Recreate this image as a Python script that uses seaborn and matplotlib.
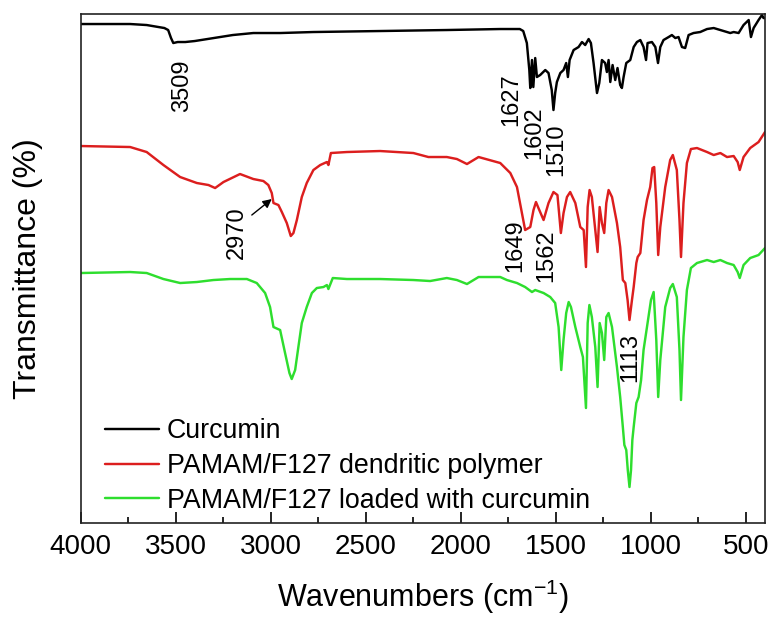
import matplotlib
matplotlib.use("Agg")
import matplotlib.pyplot as plt
import numpy as np
import pandas as pd
import seaborn as sns

# FTIR spectra (wavenumber in cm-1, transmittance in arbitrary offset units)
curcumin_wn = [4000, 3740, 3653, 3560, 3540, 3525, 3513, 3490, 3450, 3400, 3300, 3200,
               3092, 2950, 2777, 2425, 2075, 1793, 1724, 1690, 1672, 1653, 1640, 1635,
               1626, 1619, 1609, 1600, 1583, 1556, 1539, 1522, 1513, 1504, 1495, 1477,
               1460, 1446, 1437, 1428, 1407, 1381, 1363, 1346, 1328, 1316, 1302, 1284,
               1272, 1258, 1241, 1232, 1223, 1214, 1202, 1188, 1176, 1162, 1153, 1144,
               1130, 1109, 1091, 1074, 1056, 1039, 1026, 1018, 995, 977, 963, 951, 934,
               907, 890, 872, 855, 837, 820, 802, 776, 741, 705, 670, 635, 600, 583,
               565, 539, 513, 486, 474, 460, 434, 416, 408, 400]
curcumin_t = [499, 499, 498, 495, 493, 485, 480, 481, 481, 482, 485, 488,
              490, 490, 491, 492, 493, 494, 494, 494, 492, 480, 453, 435,
              463, 436, 465, 446, 448, 453, 450, 433, 413, 430, 441, 450,
              453, 460, 446, 463, 473, 476, 481, 478, 484, 480, 460, 430,
              440, 463, 460, 451, 463, 441, 458, 443, 455, 438, 435, 446,
              460, 463, 476, 481, 483, 476, 463, 480, 481, 476, 460, 476, 483,
              486, 488, 485, 486, 476, 475, 488, 490, 491, 494, 495, 493, 491, 490,
              491, 490, 498, 503, 486, 495, 503, 508, 505, 505]

dendrimer_wn = [4000, 3740, 3653, 3565, 3477, 3389, 3328, 3293, 3249, 3162, 3092, 3039,
                3013, 2995, 2986, 2960, 2942, 2916, 2895, 2881, 2863, 2837, 2811, 2776,
                2740, 2705, 2697, 2684, 2600, 2425, 2250, 2171, 2074, 2021, 1968, 1907,
                1793, 1740, 1705, 1679, 1662, 1635, 1618, 1605, 1592, 1565, 1539, 1513,
                1492, 1474, 1460, 1442, 1425, 1398, 1372, 1354, 1342, 1333, 1323, 1311,
                1293, 1281, 1270, 1258, 1246, 1235, 1223, 1205, 1179, 1162, 1148, 1135,
                1123, 1113, 1100, 1091, 1077, 1070, 1056, 1039, 1021, 1004, 992, 983,
                972, 962, 951, 925, 899, 885, 864, 850, 842, 829, 811, 790, 758, 705,
                670, 635, 600, 565, 544, 533, 513, 478, 434, 400]
dendrimer_t = [377, 376, 371, 358, 346, 340, 338, 335, 341, 349, 344, 342,
               338, 330, 320, 318, 311, 300, 287, 290, 303, 326, 340, 353,
               358, 361, 358, 370, 371, 372, 370, 366, 366, 364, 359, 366,
               360, 350, 336, 310, 293, 296, 313, 321, 315, 303, 320, 331,
               328, 290, 310, 326, 331, 320, 296, 293, 256, 316, 333, 326,
               293, 271, 316, 300, 290, 320, 333, 326, 300, 276, 243, 240,
               223, 203, 223, 236, 260, 266, 270, 303, 323, 336, 355, 356,
               320, 268, 296, 336, 363, 368, 353, 303, 266, 320, 360, 374, 375, 371,
               368, 370, 366, 367, 361, 353, 366, 375, 381, 391]

loaded_wn = [4000, 3740, 3653, 3565, 3477, 3389, 3302, 3214, 3126, 3074, 3030, 3004,
             2986, 2951, 2925, 2902, 2890, 2872, 2855, 2837, 2811, 2784, 2758, 2723,
             2705, 2697, 2674, 2600, 2425, 2250, 2162, 2074, 2021, 1968, 1907, 1793,
             1758, 1723, 1705, 1662, 1626, 1609, 1565, 1530, 1504, 1486, 1472, 1460,
             1446, 1433, 1421, 1398, 1372, 1358, 1342, 1333, 1324, 1311, 1293, 1281,
             1270, 1258, 1246, 1235, 1223, 1205, 1179, 1162, 1148, 1140, 1130, 1122,
             1113, 1105, 1098, 1091, 1077, 1065, 1052, 1039, 1021, 1000, 986, 972,
             962, 951, 925, 899, 885, 864, 850, 842, 829, 811, 790, 758, 705, 670,
             635, 600, 565, 544, 533, 513, 478, 434, 400]
loaded_t = [250, 251, 250, 244, 240, 241, 243, 244, 244, 240, 230, 216,
            196, 193, 170, 150, 144, 153, 176, 200, 216, 230, 235, 236,
            238, 234, 245, 244, 244, 243, 242, 245, 243, 239, 246, 246,
            243, 241, 240, 236, 231, 233, 230, 226, 220, 196, 153, 183,
            210, 221, 216, 196, 176, 166, 115, 200, 218, 206, 176, 136,
            200, 190, 163, 206, 210, 196, 156, 126, 96, 78, 73, 53,
            36, 53, 83, 96, 120, 126, 143, 173, 196, 223, 231, 183,
            126, 163, 216, 235, 239, 226, 173, 123, 186, 233, 255, 260, 263, 261,
            263, 260, 258, 251, 245, 258, 265, 268, 275]

series_names = ["Curcumin", "PAMAM/F127 dendritic polymer",
                "PAMAM/F127 loaded with curcumin"]
series_colors = ["#000000", "#dc1e1e", "#2ede2e"]

# Peak labels: text, x position (cm-1), y position
peak_text = ["3509", "1627", "1602", "1510", "1649", "1562", "1113", "2970"]
peak_x = [3467, 1735, 1614, 1498, 1714, 1551, 1109, 3177]
peak_y = [437, 423, 390, 373, 277, 267, 166, 290]
# Arrow pointing at the 2970 shoulder of the dendritic polymer
arrow_start = (3100, 308)
arrow_tip = (2995, 324)

sns.set_theme(style="ticks")
plt.rcParams["font.family"] = ["Liberation Sans", "DejaVu Sans"]
plt.rcParams["mathtext.fontset"] = "custom"
plt.rcParams["mathtext.rm"] = "Liberation Sans"
plt.rcParams["mathtext.it"] = "Liberation Sans"
plt.rcParams["text.color"] = "black"
plt.rcParams["axes.labelcolor"] = "black"
plt.rcParams["legend.labelcolor"] = "black"

fig = plt.figure(figsize=(7.74, 6.18), dpi=100)
ax = fig.add_axes([0.1043, 0.1537, 0.9884 - 0.1043, 0.9773 - 0.1537])

for wn, t, name, col in zip([curcumin_wn, dendrimer_wn, loaded_wn],
                            [curcumin_t, dendrimer_t, loaded_t],
                            series_names, series_colors):
    df = pd.DataFrame({"wn": wn, "t": t})
    sns.lineplot(data=df, x="wn", y="t", ax=ax, color=col, lw=1.75,
                 label=name, estimator=None)

ax.set_xlim(4000, 400)
ax.set_ylim(0, 509)
ax.set_xticks([4000, 3500, 3000, 2500, 2000, 1500, 1000, 500])
ax.set_xticks(np.arange(3750, 400, -500), minor=True)
ax.set_yticks([])
ax.tick_params(axis="x", which="major", direction="in", length=7.7, width=1.2,
               labelsize=20, pad=8, colors="black")
ax.tick_params(axis="x", which="minor", direction="in", length=4, width=1.2,
               colors="black")
for s in ax.spines.values():
    s.set_visible(True)
    s.set_color("#222222")
    s.set_linewidth(1.2)

ax.set_xlabel("Wavenumbers (cm$^{\\mathregular{-1}}$)", fontsize=22, labelpad=13,
              color="black")
ax.set_ylabel("Transmittance (%)", fontsize=23, labelpad=27, color="black")

for txt, x, y in zip(peak_text, peak_x, peak_y):
    ax.text(x, y, txt, rotation=90, ha="center", va="center", fontsize=17,
            color="black")

ax.annotate("", xy=arrow_tip, xytext=arrow_start,
            arrowprops=dict(arrowstyle="-|>", color="black", lw=1.0,
                            shrinkA=0, shrinkB=0, mutation_scale=13))

leg = ax.legend(loc="upper left", bbox_to_anchor=(0.0355, 0.206), frameon=False,
                fontsize=19.3, handlelength=2.0, handletextpad=0.3,
                labelspacing=0.33, borderaxespad=0, borderpad=0)
for h in leg.get_lines():
    h.set_linewidth(1.75)
for t in leg.get_texts():
    t.set_color("black")

fig.savefig("out.png", dpi=100)
